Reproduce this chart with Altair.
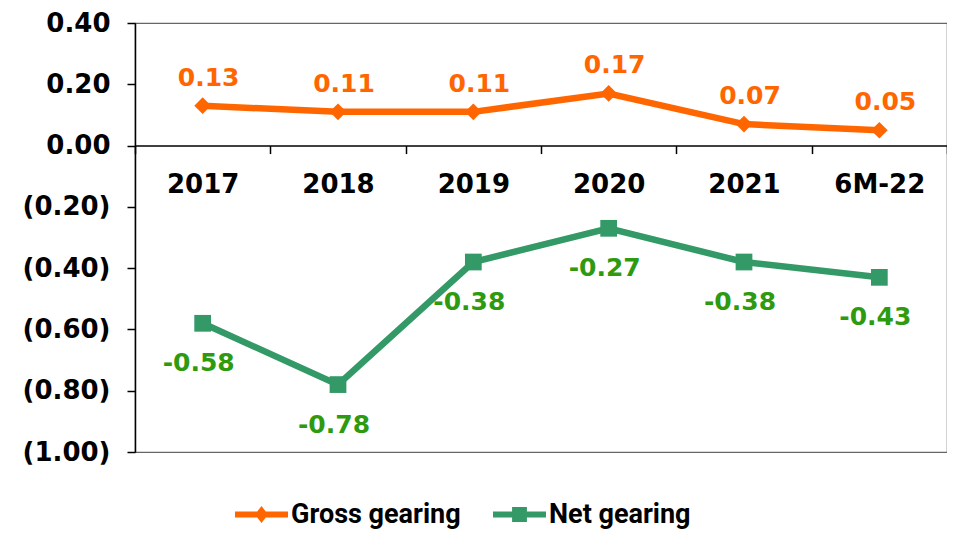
import altair as alt
import pandas as pd

periods = ["2017", "2018", "2019", "2020", "2021", "6M-22"]
gross = [0.13, 0.11, 0.11, 0.17, 0.07, 0.05]
net = [-0.58, -0.78, -0.38, -0.27, -0.38, -0.43]
series_names = ["Gross gearing", "Net gearing"]
line_colors = ["#FF6600", "#339966"]
label_colors = ["#FF6600", "#2E9A10"]
y_ticks = [0.4, 0.2, 0.0, -0.2, -0.4, -0.6, -0.8, -1.0]

rows = []
for p, g, n in zip(periods, gross, net):
    rows.append({"period": p, "series": series_names[0], "value": g, "label": f"{g:.2f}"})
    rows.append({"period": p, "series": series_names[1], "value": n, "label": f"{n:.2f}"})
df = pd.DataFrame(rows)

W, H = 812, 429
Y_MIN, Y_MAX = -1.0, 0.4
zero_from_bottom = (0 - Y_MIN) / (Y_MAX - Y_MIN) * H

AXIS_FONT = "DejaVu Sans"
LEGEND_FONT = "Roboto"

x_enc = alt.X(
    "period:N",
    sort=periods,
    scale=alt.Scale(type="band", domain=periods, paddingInner=0, paddingOuter=0),
    axis=alt.Axis(
        title=None, orient="bottom", offset=-zero_from_bottom,
        domainColor="black", domainWidth=1.5,
        tickColor="black", tickWidth=1.5, tickSize=8, tickBand="extent",
        labelFont=AXIS_FONT, labelFontSize=26, labelFontWeight="bold",
        labelColor="black", labelPadding=18, labelAngle=0,
    ),
)

y_enc = alt.Y(
    "value:Q",
    scale=alt.Scale(domain=[Y_MIN, Y_MAX], nice=False, zero=False),
    axis=alt.Axis(
        title=None, values=y_ticks, grid=False,
        domainColor="black", domainWidth=1.5,
        tickColor="black", tickWidth=1.5, tickSize=8,
        labelFont=AXIS_FONT, labelFontSize=26, labelFontWeight="bold",
        labelColor="black", labelPadding=17,
        labelExpr="datum.value < -0.0001 ? '(' + format(-datum.value, '.2f') + ')' : format(datum.value, '.2f') + '\u00a0'",
    ),
)

gross_path = "M-1,-0.11L1,-0.11L1,0.11L-1,0.11Z M0,-0.32L0.25,0L0,0.32L-0.25,0Z"
net_path = "M-1,-0.11L1,-0.11L1,0.11L-1,0.11Z M-0.28,-0.28L0.28,-0.28L0.28,0.28L-0.28,0.28Z"
symbol_paths = [gross_path, net_path]
legend_x = [100, 358]


def make_legend(i):
    return alt.Legend(
        title=None, orient="none", legendX=legend_x[i], legendY=465, direction="horizontal",
        symbolType=symbol_paths[i], symbolSize=2809, symbolStrokeWidth=0,
        symbolFillColor=line_colors[i],
        labelFont=LEGEND_FONT, labelFontSize=27, labelFontWeight="bold",
        labelColor="black", labelOffset=3, labelLimit=400, padding=0,
    )


full_scale = alt.Scale(domain=series_names, range=line_colors)

base = alt.Chart(df)

lines = base.mark_line(strokeWidth=6.5).encode(
    x=x_enc, y=y_enc,
    color=alt.Color("series:N", scale=full_scale, legend=None),
    detail="series:N",
)

markers = base.mark_point(filled=True, opacity=1, size=280).encode(
    x=x_enc, y=y_enc,
    color=alt.Color("series:N", scale=full_scale, legend=None),
    shape=alt.Shape("series:N", scale=alt.Scale(domain=series_names, range=["diamond", "square"]), legend=None),
)

legend_layers = []
for i, name in enumerate(series_names):
    legend_layers.append(
        base.transform_filter("false").mark_point(filled=True, opacity=1).encode(
            x=x_enc, y=y_enc,
            color=alt.Color(
                "series:N",
                scale=alt.Scale(domain=[name], range=[line_colors[i]]),
                legend=make_legend(i),
            ),
        )
    )

gross_labels = base.transform_filter(alt.datum.series == series_names[0]).mark_text(
    font=AXIS_FONT, fontSize=25, fontWeight="bold", color=label_colors[0], dx=6, dy=-28,
).encode(x=x_enc, y=y_enc, text="label:N")

net_labels = base.transform_filter(alt.datum.series == series_names[1]).mark_text(
    font=AXIS_FONT, fontSize=25, fontWeight="bold", color=label_colors[1], dx=-4, dy=40,
).encode(x=x_enc, y=y_enc, text="label:N")

chart = alt.layer(lines, markers, *legend_layers, gross_labels, net_labels).resolve_scale(
    color="independent"
).properties(
    width=W, height=H,
    autosize=alt.AutoSizeParams(type="none"),
    padding={"left": 127, "top": 15, "right": 0, "bottom": 82},
).configure_view(stroke="#666666", strokeWidth=1.2)

chart.save("out.html", embed_options={"renderer": "svg", "actions": False})
